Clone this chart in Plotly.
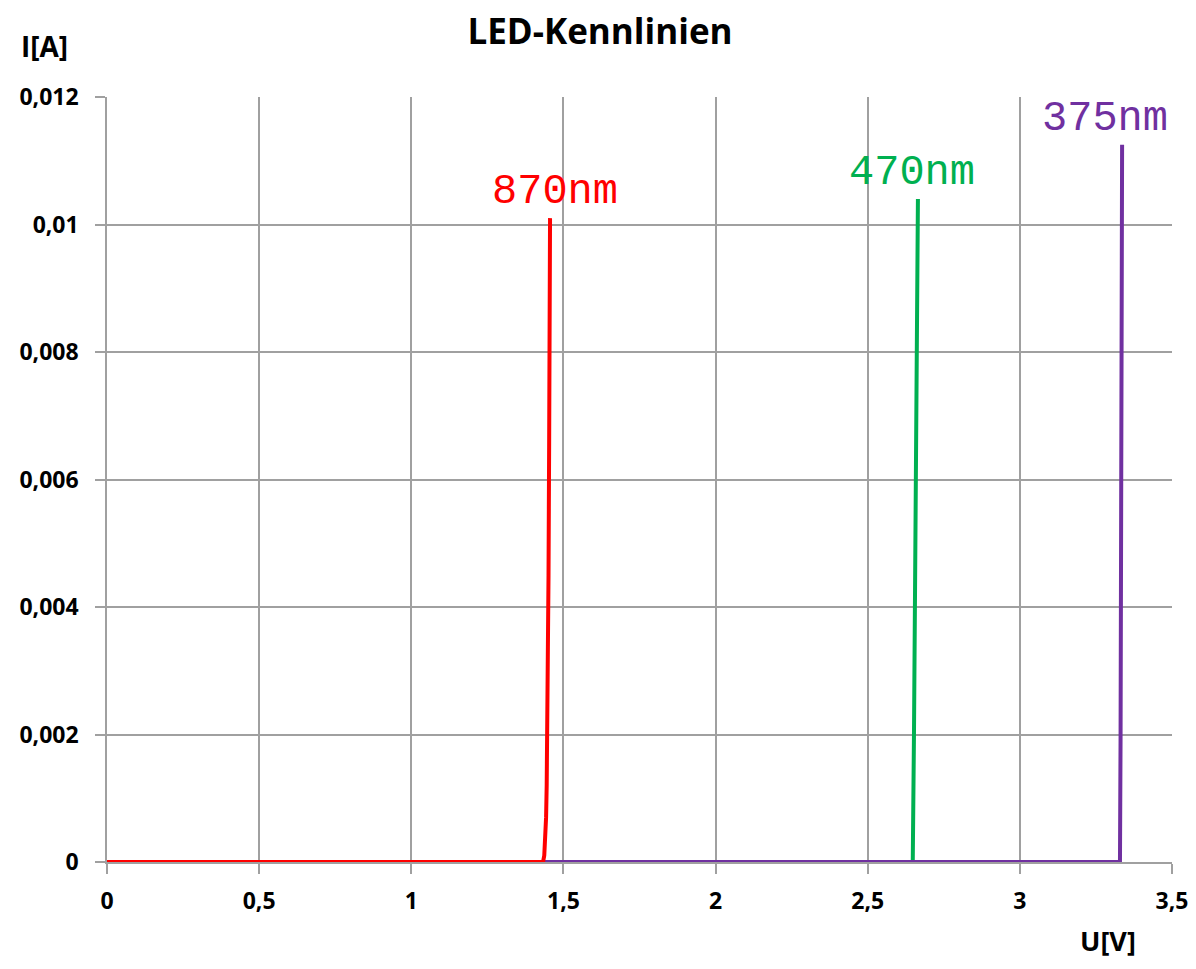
import plotly.graph_objects as go

# Data
u_470 = [0.0, 1.0, 2.0, 2.60, 2.648, 2.652, 2.656, 2.660, 2.665]
i_470 = [0.0, 0.0, 0.0, 0.0, 0.0, 0.002, 0.005, 0.008, 0.0104]

u_375 = [0.0, 1.0, 2.0, 3.0, 3.30, 3.329, 3.331, 3.333, 3.335, 3.336]
i_375 = [0.0, 0.0, 0.0, 0.0, 0.0, 0.0, 0.002, 0.006, 0.009, 0.01125]

u_870 = [0.0, 0.5, 1.0, 1.40, 1.433, 1.437, 1.440, 1.443, 1.445, 1.447, 1.449, 1.451, 1.453, 1.455, 1.456]
i_870 = [0.0, 0.0, 0.0, 0.0, 0.0, 0.0001, 0.0003, 0.0007, 0.0012, 0.002, 0.003, 0.0045, 0.0065, 0.0085, 0.0101]

series_names = ["470nm", "375nm", "870nm"]
series_u = [u_470, u_375, u_870]
series_i = [i_470, i_375, i_870]

x_ticks = [0, 0.5, 1, 1.5, 2, 2.5, 3, 3.5]
x_ticklabels = ["0", "0,5", "1", "1,5", "2", "2,5", "3", "3,5"]
y_ticks = [0, 0.002, 0.004, 0.006, 0.008, 0.01, 0.012]
y_ticklabels = ["0", "0,002", "0,004", "0,006", "0,008", "0,01", "0,012"]

# styles
colors = {"470nm": "#00B050", "375nm": "#7030A0", "870nm": "#FF0000"}
label_xshift = {"470nm": -6, "375nm": -17, "870nm": 5}

fig = go.Figure()
for name, u, i in zip(series_names, series_u, series_i):
    col = colors[name]
    fig.add_trace(go.Scatter(x=u, y=i, mode="lines", name=name,
                             line=dict(color=col, width=4), showlegend=False))
    fig.add_annotation(x=u[-1], y=i[-1], text=name, showarrow=False,
                       yanchor="bottom", xanchor="center", yshift=0,
                       xshift=label_xshift[name],
                       font=dict(family="Liberation Mono, Courier New, monospace",
                                 size=42, color=col))

sans = "Open Sans, Liberation Sans, sans-serif"
tickfont = dict(family=sans, size=23, color="black", weight="bold")
grid = "#A0A0A0"
W, H = 1184, 953
fig.update_layout(
    width=W, height=H,
    paper_bgcolor="white", plot_bgcolor="white",
    margin=dict(l=99, r=20, t=89, b=99, autoexpand=False),
    title=dict(text="<b>LED-Kennlinien</b>", x=(600 - 8) / W, xanchor="center",
               y=1 - 24 / H, yanchor="middle",
               font=dict(family=sans, size=35, color="black")),
    xaxis=dict(range=[0, 3.5], tickvals=x_ticks, ticktext=x_ticklabels,
               showgrid=True, gridcolor=grid, gridwidth=1.5,
               showline=True, linecolor=grid, linewidth=1.5,
               ticks="outside", ticklen=10, tickcolor=grid, tickwidth=1.5,
               ticklabelstandoff=8, automargin=False,
               tickfont=tickfont, zeroline=False),
    yaxis=dict(range=[0, 0.012], tickvals=y_ticks, ticktext=y_ticklabels,
               showgrid=True, gridcolor=grid, gridwidth=1.5,
               showline=True, linecolor=grid, linewidth=1.5,
               ticks="outside", ticklen=10, tickcolor=grid, tickwidth=1.5,
               ticklabelstandoff=12, automargin=False,
               tickfont=tickfont, zeroline=False),
)
fig.add_annotation(xref="paper", yref="paper", x=(45 - 107) / 1065, y=(862 - 46) / 765,
                   text="<b>I[A]</b>", showarrow=False, xanchor="center", yanchor="middle",
                   font=dict(family=sans, size=28, color="black"))
fig.add_annotation(xref="paper", yref="paper", x=(1108 - 107) / 1065, y=(862 - 940) / 765,
                   text="<b>U[V]</b>", showarrow=False, xanchor="center", yanchor="middle",
                   font=dict(family=sans, size=27, color="black"))

fig.write_html("out.html")
